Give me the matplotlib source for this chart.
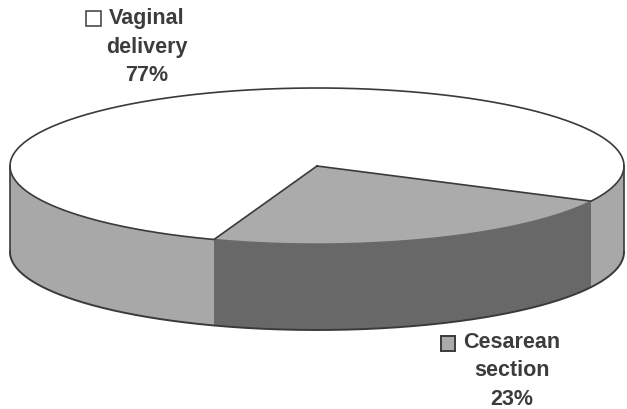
import numpy as np
import matplotlib
matplotlib.use("Agg")
import matplotlib.pyplot as plt
from matplotlib.patches import Rectangle

# share of deliveries
labels = ["Cesarean\nsection", "Vaginal\ndelivery"]
values = [23, 77]

TOP_COL = ["#ababab", "#ffffff"]
SIDE_COL = ["#686868", "#a8a8a8"]
LINE = "#3a3a3a"
TXT = "#3c3c3c"

# ellipse in image pixels
cx, cy = 317, 166
rx, ry = 307, 78
depth = 86
start = 250.4


def ell(t):
    t = np.radians(t)
    return cx + rx * np.cos(t), cy - ry * np.sin(t)


plt.rcParams["font.family"] = ["Liberation Sans", "DejaVu Sans"]

fig = plt.figure(figsize=(6.27, 4.09), dpi=100)
ax = fig.add_axes([0, 0, 1, 1])
ax.set_xlim(0, 627)
ax.set_ylim(409, 0)
ax.axis("off")

edges = start + np.cumsum([0] + values) * 3.6

# side walls, only the front half of the ellipse shows
for i in range(len(values)):
    for off in (0, 360):
        s0, s1 = max(edges[i], 180 + off), min(edges[i + 1], 360 + off)
        if s1 <= s0:
            continue
        t = np.linspace(s0, s1, 200)
        x, y = ell(t)
        ax.fill(np.r_[x, x[::-1]], np.r_[y, y[::-1] + depth], fc=SIDE_COL[i], ec="none", zorder=1)

# top slices, the arc over the dark wall has no black line in the original
for i in range(len(values)):
    t = np.linspace(edges[i], edges[i + 1], 400)
    x, y = ell(t)
    ax.fill(np.r_[cx, x], np.r_[cy, y], fc=TOP_COL[i], ec="none", zorder=2)
    if i == 0:
        ax.plot(x, y, color=SIDE_COL[0], lw=1.0, zorder=2.5)
    else:
        ax.plot(np.r_[cx, x, cx], np.r_[cy, y, cy], color=LINE, lw=1.2, zorder=2.5)

# outline of the wall
t = np.linspace(180, 360, 400)
x, y = ell(t)
ax.plot(x, y + depth, color=LINE, lw=1.4, zorder=3)
ax.plot([x[0], x[0]], [y[0], y[0] + depth], color=LINE, lw=1.2, zorder=3)
ax.plot([x[-1], x[-1]], [y[-1], y[-1] + depth], color=LINE, lw=1.2, zorder=3)

fs = 15.5
ax.text(147, 47, f"{labels[1]}\n{values[1]}%", ha="center", va="center", fontsize=fs,
        fontweight="bold", color=TXT, linespacing=1.44)
ax.add_patch(Rectangle((86, 11), 15, 15, fc="white", ec=TXT, lw=1.1))

ax.text(512, 371, f"{labels[0]}\n{values[0]}%", ha="center", va="center", fontsize=fs,
        fontweight="bold", color=TXT, linespacing=1.44)
ax.add_patch(Rectangle((441, 336), 14, 15, fc="#ababab", ec=TXT, lw=1.4))

fig.savefig("out.png", dpi=100)
